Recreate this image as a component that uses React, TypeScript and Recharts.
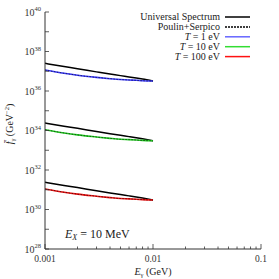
import { LineChart, Line, XAxis, YAxis } from "recharts"

// photon energies (GeV)
const energies = [0.001, 0.0015, 0.002, 0.003, 0.004, 0.005, 0.006, 0.007, 0.008, 0.01]

// universal spectrum, one per temperature
const universal1 = [2.51e37, 1.74e37, 1.35e37, 9.3e36, 7.2e36, 6.0e36, 5.1e36, 4.5e36, 4.0e36, 3.2e36]
const universal10 = [2.4e34, 1.66e34, 1.29e34, 8.9e33, 6.9e33, 5.7e33, 4.9e33, 4.3e33, 3.8e33, 3.05e33]
const universal100 = [2.4e31, 1.66e31, 1.29e31, 8.9e30, 6.9e30, 5.7e30, 4.9e30, 4.3e30, 3.8e30, 3.05e30]

// full cascade at T = 1, 10, 100 eV
const temp1 = [1.15e37, 7.9e36, 6.3e36, 4.9e36, 4.2e36, 3.8e36, 3.6e36, 3.5e36, 3.3e36, 3.2e36]
const temp10 = [1.1e34, 7.5e33, 6.0e33, 4.7e33, 4.0e33, 3.6e33, 3.45e33, 3.3e33, 3.15e33, 3.0e33]
const temp100 = [1.1e31, 7.5e30, 6.0e30, 4.7e30, 4.0e30, 3.6e30, 3.45e30, 3.3e30, 3.15e30, 3.0e30]

// Poulin+Serpico approximation (lies on top of the T curves)
const poulin1 = temp1
const poulin10 = temp10
const poulin100 = temp100

const xTicks = [
  0.001, 0.002, 0.003, 0.004, 0.005, 0.006, 0.007, 0.008, 0.009,
  0.01, 0.02, 0.03, 0.04, 0.05, 0.06, 0.07, 0.08, 0.09, 0.1,
]
const xLabels = [0.001, 0.01, 0.1]
const yExps = [28, 29, 30, 31, 32, 33, 34, 35, 36, 37, 38, 39, 40]
const yTicks = yExps.map((e) => Math.pow(10, e))

const legendItems = [
  { label: "Universal Spectrum", color: "#000", dash: "" },
  { label: "Poulin+Serpico", color: "#000", dash: "2 1" },
  { label: "T = 1 eV", color: "#6666ff", dash: "" },
  { label: "T = 10 eV", color: "#33dd33", dash: "" },
  { label: "T = 100 eV", color: "#ff1111", dash: "" },
]

const data = energies.map((E, i) => ({
  E,
  u1: universal1[i],
  u10: universal10[i],
  u100: universal100[i],
  t1: temp1[i],
  t10: temp10[i],
  t100: temp100[i],
  p1: poulin1[i],
  p10: poulin10[i],
  p100: poulin100[i],
}))

const FONT = "Liberation Serif, DejaVu Serif, serif"
const AXIS = "#333"

const isMajorX = (v: number) => xLabels.some((m) => Math.abs(m - v) / m < 1e-6)

function XTick(props: any) {
  const { x, y, payload, top } = props
  const major = isMajorX(payload.value)
  const len = major ? 5 : 2.5
  const dir = top ? 1 : -1
  return (
    <g>
      <line x1={x} y1={y} x2={x} y2={y + dir * len} stroke={AXIS} strokeWidth={0.8} />
      {!top && major && (
        <text x={x} y={y + 13} textAnchor="middle" fontSize={9.5} fontFamily={FONT} fill="#333">
          {payload.value}
        </text>
      )}
    </g>
  )
}

function YTick(props: any) {
  const { x, y, payload, right } = props
  const e = Math.round(Math.log10(payload.value))
  const dir = right ? -1 : 1
  return (
    <g>
      <line x1={x} y1={y} x2={x + dir * 4} y2={y} stroke={AXIS} strokeWidth={0.8} />
      {!right && e % 2 === 0 && (
        <text x={x - 4} y={y + 3.5} textAnchor="end" fontSize={10} fontFamily={FONT} fill="#333">
          10
          <tspan dy={-4.5} fontSize={6.5}>
            {e}
          </tspan>
        </text>
      )}
    </g>
  )
}

const groups = [
  { u: "u1", t: "t1", p: "p1", color: "#3b3bff" },
  { u: "u10", t: "t10", p: "p10", color: "#22cc22" },
  { u: "u100", t: "t100", p: "p100", color: "#ee1111" },
]

export default function App() {
  return (
    <div style={{ position: "absolute", left: 0, top: 0, width: 279, height: 279, background: "#fff" }}>
      <LineChart width={279} height={279} data={data} margin={{ top: 12, right: 18, bottom: 0, left: 0 }}>
        <XAxis
          dataKey="E"
          type="number"
          scale="log"
          domain={[0.001, 0.1]}
          ticks={xTicks}
          allowDataOverflow
          height={30}
          tickSize={0}
          tickMargin={0}
          tickLine={false}
          axisLine={{ stroke: AXIS, strokeWidth: 1 }}
          tick={<XTick />}
          interval={0}
        />
        <XAxis
          xAxisId="top"
          dataKey="E"
          orientation="top"
          type="number"
          scale="log"
          domain={[0.001, 0.1]}
          ticks={xTicks}
          allowDataOverflow
          height={0}
          tickSize={0}
          tickMargin={0}
          tickLine={false}
          axisLine={{ stroke: AXIS, strokeWidth: 1 }}
          tick={<XTick top />}
          interval={0}
        />
        <YAxis
          type="number"
          scale="log"
          domain={[1e28, 1e40]}
          ticks={yTicks}
          allowDataOverflow
          width={45}
          tickSize={0}
          tickMargin={0}
          tickLine={false}
          axisLine={{ stroke: AXIS, strokeWidth: 1 }}
          tick={<YTick />}
          interval={0}
        />
        <YAxis
          yAxisId="right"
          orientation="right"
          type="number"
          scale="log"
          domain={[1e28, 1e40]}
          ticks={yTicks}
          allowDataOverflow
          width={0}
          tickSize={0}
          tickMargin={0}
          tickLine={false}
          axisLine={{ stroke: AXIS, strokeWidth: 1 }}
          tick={<YTick right />}
          interval={0}
        />
        {groups.map((g) => (
          <Line
            key={g.u}
            dataKey={g.u}
            type="monotone"
            stroke="#000"
            strokeWidth={1.5}
            dot={false}
            isAnimationActive={false}
          />
        ))}
        {groups.map((g) => (
          <Line
            key={g.t}
            dataKey={g.t}
            type="monotone"
            stroke={g.color}
            strokeWidth={1.6}
            dot={false}
            isAnimationActive={false}
          />
        ))}
        {groups.map((g) => (
          <Line
            key={g.p}
            dataKey={g.p}
            type="monotone"
            stroke="#000"
            strokeWidth={0.8}
            strokeDasharray="1.5 1.5"
            strokeOpacity={0.7}
            dot={false}
            isAnimationActive={false}
          />
        ))}
      </LineChart>
      <svg width={279} height={279} style={{ position: "absolute", left: 0, top: 0, pointerEvents: "none" }}>
        {legendItems.map((it, i) => {
          const y = 17 + i * 9.9
          const label =
            i < 2 ? (
              it.label
            ) : (
              <>
                <tspan fontStyle="italic">T</tspan>
                {" = " + it.label.slice(4)}
              </>
            )
          return (
            <g key={it.label}>
              <text x={220} y={y + 3.2} textAnchor="end" fontSize={10} fontFamily={FONT} fill="#222">
                {label}
              </text>
              <line x1={225} y1={y} x2={250} y2={y} stroke={it.color} strokeWidth={1.5} strokeDasharray={it.dash} />
            </g>
          )
        })}
        <text x={65} y={238} fontSize={12} fontFamily={FONT} fill="#222">
          <tspan fontStyle="italic">E</tspan>
          <tspan fontSize={8} dy={2} fontStyle="italic">X</tspan>
          <tspan dy={-2}> = 10 MeV</tspan>
        </text>
        <text x={153} y={275} textAnchor="middle" fontSize={10} fontFamily={FONT} fill="#222">
          <tspan fontStyle="italic">E</tspan>
          <tspan fontSize={6.5} dy={2}>γ</tspan>
          <tspan dy={-2}> (GeV)</tspan>
        </text>
        <text x={0} y={0} transform="translate(13,124) rotate(-90)" textAnchor="middle" fontSize={10} fontFamily={FONT} fill="#222">
          <tspan fontStyle="italic">f̄</tspan>
          <tspan fontSize={6.5} dy={2}>γ</tspan>
          <tspan dy={-2}> (GeV</tspan>
          <tspan fontSize={6.5} dy={-4}>−2</tspan>
          <tspan dy={4}>)</tspan>
        </text>
      </svg>
    </div>
  )
}
